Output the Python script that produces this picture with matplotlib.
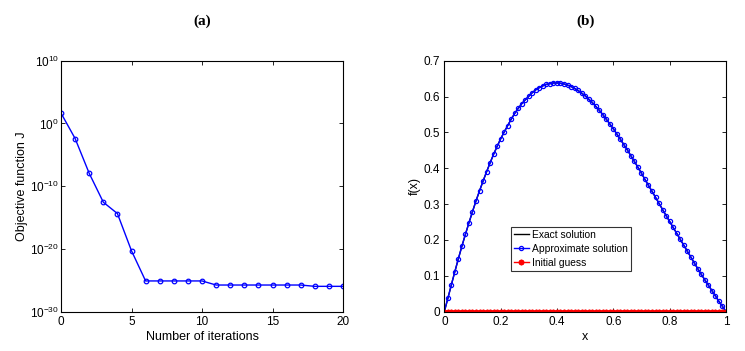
import matplotlib
matplotlib.use('Agg')
import matplotlib.pyplot as plt
import numpy as np

plt.rcParams['font.family'] = ['Liberation Sans', 'DejaVu Sans']
plt.rcParams['mathtext.fontset'] = 'custom'
plt.rcParams['mathtext.rm'] = 'Liberation Sans'

# (a) objective function vs iterations (log10 of J)
iterations = list(range(21))
log_J = [1.65, -2.4, -7.95, -12.55, -14.36, -20.3,
         -25.1, -25.1, -25.1, -25.1, -25.1,
         -25.75, -25.75, -25.75, -25.75, -25.75, -25.75, -25.75,
         -25.96, -25.96, -25.96]

# (b) solutions on x = 0 .. 1, step 1/80
x_vals = [i / 80 for i in range(81)]
f_exact = [0.000, 0.037, 0.075, 0.112, 0.148, 0.183, 0.216, 0.248, 0.279, 0.309,
           0.337, 0.364, 0.390, 0.415, 0.439, 0.461, 0.482, 0.501, 0.519, 0.537,
           0.553, 0.567, 0.580, 0.591, 0.601, 0.611, 0.619, 0.625, 0.630, 0.634,
           0.636, 0.638, 0.638, 0.637, 0.635, 0.632, 0.628, 0.623, 0.617, 0.610,
           0.602, 0.593, 0.584, 0.573, 0.562, 0.550, 0.537, 0.524, 0.510, 0.496,
           0.481, 0.466, 0.451, 0.435, 0.419, 0.403, 0.386, 0.369, 0.352, 0.336,
           0.319, 0.302, 0.285, 0.268, 0.252, 0.235, 0.219, 0.202, 0.186, 0.169,
           0.153, 0.136, 0.120, 0.104, 0.089, 0.074, 0.059, 0.044, 0.029, 0.015,
           0.000]
f_approx = list(f_exact)
f_initial = [0.0] * 81

fig = plt.figure(figsize=(7.45, 3.51), dpi=100)
ax1 = fig.add_axes([0.0819, 0.112, 0.3785, 0.715])
ax2 = fig.add_axes([0.5964, 0.112, 0.378, 0.715])

ax1.semilogy(iterations, 10.0 ** np.array(log_J), '-o', color='#0000ff', lw=1,
             ms=3.3, mfc='none', mew=0.9)
ax1.set_xlim(0, 20)
ax1.set_ylim(1e-30, 1e10)
ax1.set_yticks([1e-30, 1e-20, 1e-10, 1e0, 1e10])
ax1.yaxis.set_minor_locator(matplotlib.ticker.NullLocator())
ax1.set_xticks([0, 5, 10, 15, 20])
ax1.set_xlabel('Number of iterations', fontsize=9, labelpad=2)

ax2.plot(x_vals, f_exact, '-', color='black', lw=1, label='Exact solution')
ax2.plot(x_vals, f_approx, '-o', color='#0000ff', lw=1, ms=3, mfc='none',
         mew=0.9, label='Approximate solution')
ax2.plot(x_vals, f_initial, '-', color='red', lw=1, marker=(6, 2, 0), ms=4,
         mew=1.3, label='Initial guess')
ax2.set_xlim(0, 1)
ax2.set_ylim(0, 0.7)
ax2.set_xticks([0, 0.2, 0.4, 0.6, 0.8, 1])
ax2.set_xticklabels(['0', '0.2', '0.4', '0.6', '0.8', '1'])
ax2.set_yticks([0, 0.1, 0.2, 0.3, 0.4, 0.5, 0.6, 0.7])
ax2.set_yticklabels(['0', '0.1', '0.2', '0.3', '0.4', '0.5', '0.6', '0.7'])
ax2.set_xlabel('x', fontsize=9, labelpad=2)
ax2.set_ylabel('f(x)', fontsize=9, labelpad=2)
leg = ax2.legend(loc='lower left', bbox_to_anchor=(0.237, 0.162), fontsize=7.4,
                 frameon=True, fancybox=False, edgecolor='black',
                 handlelength=1.4, handletextpad=0.3, borderpad=0.3,
                 labelspacing=0.4, borderaxespad=0)
leg.get_frame().set_linewidth(0.8)

for ax, title in ((ax1, '(a)'), (ax2, '(b)')):
    ax.tick_params(direction='in', top=True, right=True, labelsize=8.5,
                   length=3, width=0.6, pad=3)
    for s in ax.spines.values():
        s.set_linewidth(0.8)
    ax.set_title(title, fontsize=11, fontweight='bold',
                 family='Liberation Serif', pad=26)

ax1.tick_params(axis='y', pad=1.5)
ax1.set_ylabel('Objective function J', fontsize=9)
ax1.yaxis.set_label_coords(-33 / 282, 0.5)

fig.savefig('out.png', dpi=100)
